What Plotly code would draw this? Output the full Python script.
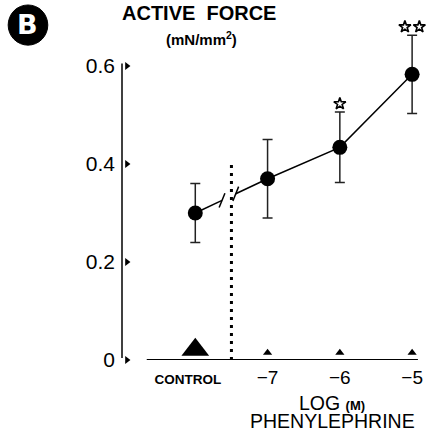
import plotly.graph_objects as go

# ---- data ----
x_pos = [-8, -7, -6, -5]
x_labels = ['<b><span style="font-size:13.5px">CONTROL&nbsp;&nbsp;&nbsp;&nbsp;</span></b>',
            "−7", "−6", "−5"]
force = [0.300, 0.370, 0.434, 0.583]
force_se = [0.060, 0.080, 0.072, 0.080]
stars = ["", "", "*", "**"]
tri_vals = [0.021, 0.015, 0.015, 0.015]
tri_sizes = [24, 8, 8, 8]
y_ticks = [0, 0.2, 0.4, 0.6]
y_labels = ["0", "0.2", "0.4", "0.6"]
break_x = [-7.63, -7.44]
divider_x = -7.5
divider_top = 0.40

X_RANGE = [-9.014, -4.891]
Y_RANGE = [0, 0.70]
FONT = "Liberation Sans, Arial, sans-serif"


def interp(x):
    return force[0] + (force[1] - force[0]) * (x - x_pos[0]) / (x_pos[1] - x_pos[0])


fig = go.Figure()

# connecting line with axis break
line_x = [x_pos[0], break_x[0], None, break_x[1]] + x_pos[1:]
line_y = [force[0], interp(break_x[0]), None, interp(break_x[1])] + force[1:]
fig.add_trace(go.Scatter(x=line_x, y=line_y, mode="lines",
                         line=dict(color="black", width=1.5), hoverinfo="skip"))

# break marks
fig.add_trace(go.Scatter(x=break_x, y=[interp(b) for b in break_x], mode="markers",
                         marker=dict(symbol="line-ns", size=11, angle=22, color="black",
                                     line=dict(color="black", width=1.5)),
                         hoverinfo="skip"))

# data points with error bars
fig.add_trace(go.Scatter(x=x_pos, y=force, mode="markers",
                         marker=dict(symbol="circle", size=15, color="black"),
                         error_y=dict(type="data", array=force_se, visible=True,
                                      thickness=1.5, width=5, color="#222")))

# significance stars
sx, sy = [], []
for i, s in enumerate(stars):
    n = len(s)
    for k in range(n):
        sx.append(x_pos[i] + (k - (n - 1) / 2) * 0.2)
        sy.append(force[i] + force_se[i] + 0.017)
fig.add_trace(go.Scatter(x=sx, y=sy, mode="markers", cliponaxis=False,
                         marker=dict(symbol="star-open", size=9, color="black", opacity=1,
                                     line=dict(color="black", width=1.6)),
                         hoverinfo="skip"))

# triangles at the baseline
fig.add_trace(go.Scatter(x=x_pos, y=tri_vals, mode="markers",
                         marker=dict(symbol="triangle-up", size=tri_sizes, color="black",
                                     opacity=1, line=dict(width=0)),
                         hoverinfo="skip"))

# y tick triangles
fig.add_trace(go.Scatter(x=[X_RANGE[0] + 0.068] * len(y_ticks), y=y_ticks, mode="markers",
                         marker=dict(symbol="triangle-right", size=7, color="black"),
                         hoverinfo="skip", cliponaxis=False))

shapes = [
    dict(type="line", xref="paper", x0=0, x1=0, yref="y", y0=0.004, y1=0.605,
         line=dict(color="black", width=1.5)),
    dict(type="line", xref="paper", x0=0.083, x1=0.993, yref="y", y0=0, y1=0,
         line=dict(color="black", width=2)),
    dict(type="line", xref="x", x0=divider_x, x1=divider_x, yref="y", y0=0, y1=divider_top,
         line=dict(color="black", width=3, dash="3px,5px")),
    dict(type="circle", xref="paper", yref="paper", x0=-0.382, x1=-0.249, y0=0.918, y1=1.035,
         fillcolor="black", line=dict(color="black", width=1)),
]


def ann(text, x, y, size, family=FONT, color="black"):
    return dict(text=text, xref="paper", yref="paper", x=x, y=y, showarrow=False,
                xanchor="center", yanchor="middle",
                font=dict(family=family, size=size, color=color))


annotations = [
    ann("<b>B</b>", -0.3155, 0.977, 27, family="DejaVu Sans", color="white"),
    ann("<b>ACTIVE  FORCE</b>", 0.259, 1.012, 20),
    ann("<b>(mN/mm<sup>2</sup>)</b>", 0.266, 0.938, 15),
    ann('LOG <b><span style="font-size:13px">(M)</span></b>', 0.705, -0.125, 19.5),
    ann("PHENYLEPHRINE", 0.708, -0.177, 19.5),
]

fig.update_layout(
    width=426, height=434,
    margin=dict(l=122, r=3, t=17, b=74),
    plot_bgcolor="white", paper_bgcolor="white",
    showlegend=False,
    shapes=shapes, annotations=annotations,
    xaxis=dict(range=X_RANGE, tickvals=x_pos, ticktext=x_labels, ticks="",
               showgrid=False, zeroline=False, showline=False, ticklabelstandoff=4,
               tickfont=dict(family=FONT, size=19, color="black")),
    yaxis=dict(range=Y_RANGE, tickvals=y_ticks, ticktext=y_labels, ticks="",
               showgrid=False, zeroline=False, showline=False, ticklabelstandoff=6,
               tickfont=dict(family=FONT, size=21, color="black")),
)

fig.write_html("out.html")
